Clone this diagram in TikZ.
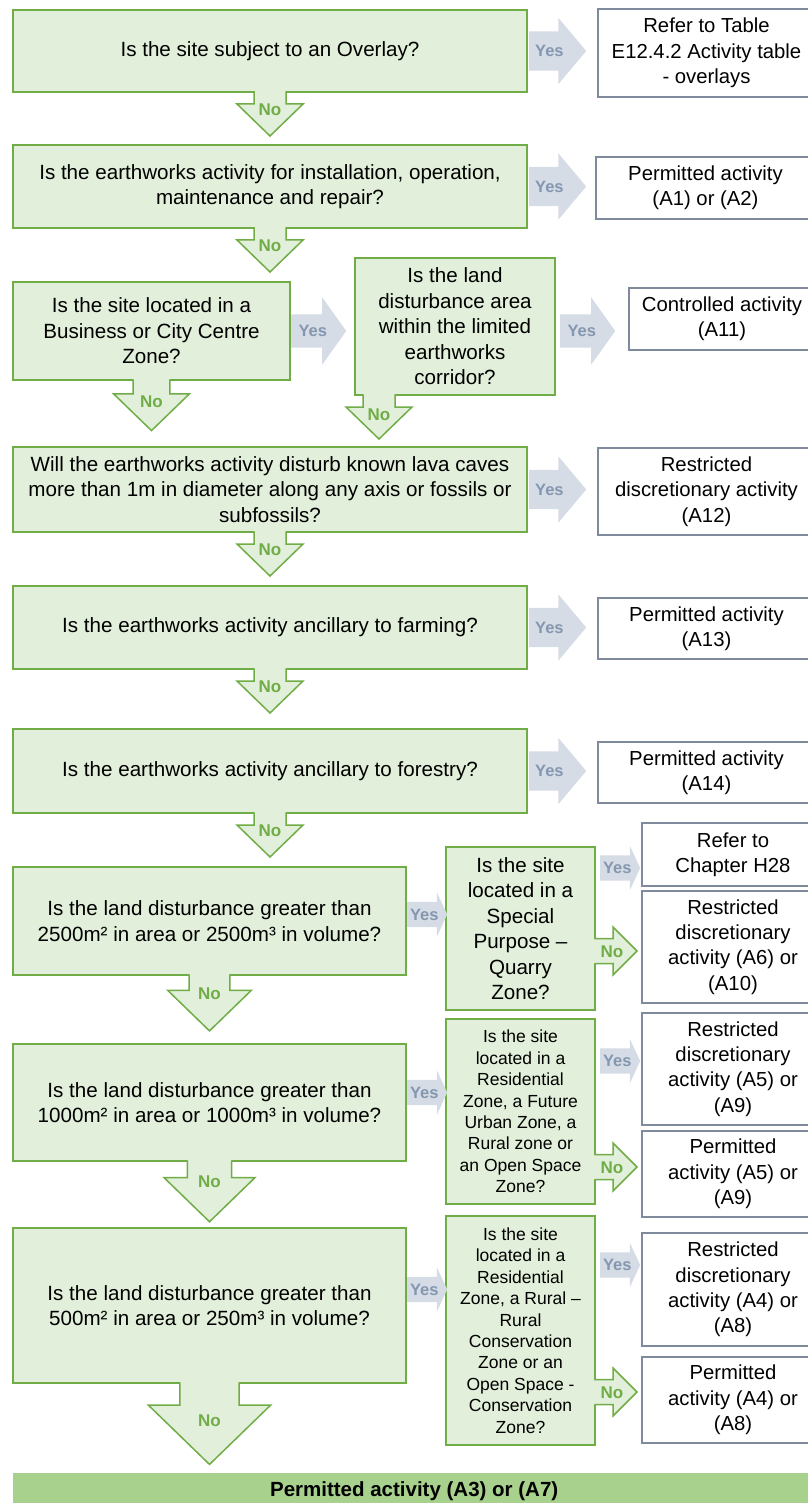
\documentclass[tikz,border=0pt]{standalone}
\usepackage{fontspec}
\setmainfont{Liberation Sans}
\usetikzlibrary{shapes.arrows,calc,positioning}
\definecolor{qfill}{HTML}{E2EFDA}
\definecolor{qline}{HTML}{70AD47}
\definecolor{rline}{HTML}{7F8A9C}
\definecolor{yesfill}{HTML}{D6DCE5}
\definecolor{yestext}{HTML}{8497B0}
\definecolor{barfill}{HTML}{A9D18E}
\tikzset{
	question/.style={draw=qline, fill=qfill, line width=1.5pt, outer sep=0pt, inner sep=2pt, align=center, anchor=north west, font=\fontsize{20.6}{25.5}\selectfont},
	smallq/.style={question, font=\fontsize{17.5}{21.4}\selectfont},
	result/.style={draw=rline, fill=white, line width=1.1pt, outer sep=0pt, inner sep=2pt, align=center, anchor=north west, font=\fontsize{20.3}{25.3}\selectfont},
	yes/.style={single arrow, fill=yesfill, text=yestext, font=\bfseries\fontsize{16.5}{16}\selectfont, text height=11.5pt, text depth=0pt, inner xsep=0pt, anchor=tail},
	yesbig/.style={yes, inner ysep=13.75pt, single arrow head extend=13.5pt, single arrow tip angle=100, minimum height=57pt},
	yesmid/.style={yes, inner ysep=10.75pt, single arrow head extend=17pt, single arrow tip angle=109, minimum height=55pt},
	yessmall/.style={yes, inner ysep=6.75pt, single arrow head extend=9.5pt, single arrow tip angle=130, minimum height=40pt},
	nolabel/.style={text=qline, font=\bfseries\fontsize{17}{17}\selectfont, inner sep=0pt},
	noline/.style={draw=qline, line width=1.5pt, line cap=rect},
	bar/.style={fill=barfill, inner sep=0pt, anchor=north west, font=\bfseries\fontsize{20.5}{21}\selectfont}
}
\newcommand{\noarrow}[4]{%
	\begin{scope}[shift={(#1.south)}, xshift=#2, scale=#3]
		\fill[qfill] (-16,-3) -- (-16,12) -- (-33,12) -- (0,44) -- (33,12) -- (16,12) -- (16,-3) -- cycle;
		\draw[noline] (-16,0) -- (-16,12) -- (-33,12) -- (0,44) -- (33,12) -- (16,12) -- (16,0);
	\end{scope}
	\node[nolabel] at ($(#1.south)+(#2,#4)$) {No};}
\newcommand{\sidenoarrow}[2]{%
	\begin{scope}[shift={(#1.east |- 0,#2)}]
		\fill[qfill] (-3,-12.5) -- (18,-12.5) -- (18,-24) -- (42,0) -- (18,24) -- (18,12.5) -- (-3,12.5) -- cycle;
		\draw[noline] (0,-12.5) -- (18,-12.5) -- (18,-24) -- (42,0) -- (18,24) -- (18,12.5) -- (0,12.5);
	\end{scope}
	\node[nolabel] at ($(#1.east |- 0,#2)+(17,1)$) {No};}

\begin{document}
\begin{tikzpicture}[x=1pt, y=-1pt]
	\useasboundingbox (0,0) rectangle (807,1503);
	\node[question, minimum width=514pt, minimum height=82pt] (q1) at (13,10) {Is the site subject to an Overlay?};
	\node[question, minimum width=514pt, minimum height=83pt] (q2) at (13,145) {Is the earthworks activity for installation, operation,\\maintenance and repair?};
	\node[question, minimum width=277pt, minimum height=98pt] (q3a) at (13,282) {Is the site located in a\\Business or City Centre\\Zone?};
	\node[question, minimum width=200pt, minimum height=137pt] (q3b) at (355,258) {Is the land\\disturbance area\\within the limited\\earthworks\\corridor?};
	\node[question, minimum width=514pt, minimum height=85pt] (q4) at (13,447) {Will the earthworks activity disturb known lava caves\\more than 1m in diameter along any axis or fossils or\\subfossils?};
	\node[question, minimum width=514pt, minimum height=83pt] (q5) at (13,586) {Is the earthworks activity ancillary to farming?};
	\node[question, minimum width=514pt, minimum height=84pt] (q6) at (13,729) {Is the earthworks activity ancillary to forestry?};
	\node[question, minimum width=393pt, minimum height=108pt] (q7) at (13,867) {Is the land disturbance greater than\\2500m² in area or 2500m³ in volume?};
	\node[question, minimum width=149pt, minimum height=163pt] (q7b) at (446,847) {Is the site\\located in a\\Special\\Purpose –\\Quarry\\Zone?};
	\node[question, minimum width=393pt, minimum height=117pt] (q8) at (13,1044) {Is the land disturbance greater than\\1000m² in area or 1000m³ in volume?};
	\node[smallq, minimum width=149pt, minimum height=185pt] (q8b) at (446,1019) {Is the site\\located in a\\Residential\\Zone, a Future\\Urban Zone, a\\Rural zone or\\an Open Space\\Zone?};
	\node[question, minimum width=393pt, minimum height=155pt] (q9) at (13,1228) {Is the land disturbance greater than\\500m² in area or 250m³ in volume?};
	\node[smallq, minimum width=149pt, minimum height=229pt] (q9b) at (446,1216) {Is the site\\located in a\\Residential\\Zone, a Rural –\\Rural\\Conservation\\Zone or an\\Open Space -\\Conservation\\Zone?};

	\node[result, minimum width=217pt, minimum height=88pt] (r1) at (598,9) {Refer to Table\\E12.4.2 Activity table\\- overlays};
	\node[result, minimum width=219pt, minimum height=62pt] (r2) at (596,157) {Permitted activity\\(A1) or (A2)};
	\node[result, minimum width=186pt, minimum height=62pt] (r3) at (629,288) {Controlled activity\\(A11)};
	\node[result, minimum width=217pt, minimum height=87pt] (r4) at (598,448) {Restricted\\discretionary activity\\(A12)};
	\node[result, minimum width=217pt, minimum height=61pt] (r5) at (598,598) {Permitted activity\\(A13)};
	\node[result, minimum width=217pt, minimum height=61pt] (r6) at (598,742) {Permitted activity\\(A14)};
	\node[result, minimum width=182pt, minimum height=63pt] (r7a) at (642,823) {Refer to\\Chapter H28};
	\node[result, minimum width=182pt, minimum height=112pt] (r7b) at (642,891) {Restricted\\discretionary\\activity (A6) or\\(A10)};
	\node[result, minimum width=182pt, minimum height=112pt] (r8a) at (642,1013) {Restricted\\discretionary\\activity (A5) or\\(A9)};
	\node[result, minimum width=182pt, minimum height=86pt] (r8b) at (642,1131) {Permitted\\activity (A5) or\\(A9)};
	\node[result, minimum width=182pt, minimum height=113pt] (r9a) at (642,1233) {Restricted\\discretionary\\activity (A4) or\\(A8)};
	\node[result, minimum width=182pt, minimum height=86pt] (r9b) at (642,1357) {Permitted\\activity (A4) or\\(A8)};
	\node[bar, minimum width=802pt, minimum height=36pt] (end) at (13,1473) {Permitted activity (A3) or (A7)};

	\node[yesbig] (y1) at ([xshift=2pt]q1.east) {Yes};
	\node[yesbig] (y2) at ([xshift=2pt]q2.east) {Yes};
	\node[yesmid] (y3a) at ([xshift=1pt]q3a.east) {Yes};
	\node[yesmid] (y3b) at ($(q3b.east |- q3a.east)+(5,0)$) {Yes};
	\node[yesbig] (y4) at ([xshift=2pt]q4.east) {Yes};
	\node[yesbig] (y5) at ([xshift=2pt]q5.east) {Yes};
	\node[yesbig] (y6) at ([xshift=2pt]q6.east) {Yes};
	\node[yessmall] (y7) at ($(q7.east)+(1,-6.5)$) {Yes};
	\node[yessmall] (y7b) at (600,868) {Yes};
	\node[yessmall] (y8) at ($(q8.east)+(1,-10)$) {Yes};
	\node[yessmall] (y8b) at (600,1061) {Yes};
	\node[yessmall] (y9) at ($(q9.east)+(1,-16)$) {Yes};
	\node[yessmall] (y9b) at (600,1265) {Yes};

	\noarrow{q1}{0}{1}{18}
	\noarrow{q2}{0}{1}{18}
	\noarrow{q3a}{0}{1.15}{22}
	\noarrow{q3b}{-76}{1}{20}
	\noarrow{q4}{0}{1}{18}
	\noarrow{q5}{0}{1}{18}
	\noarrow{q6}{0}{1}{18}
	\noarrow{q7}{0}{1.27}{19}
	\noarrow{q8}{0}{1.38}{21}
	\noarrow{q9}{0}{1.85}{38}
	\sidenoarrow{q7b}{951}
	\sidenoarrow{q8b}{1167}
	\sidenoarrow{q9b}{1392}
\end{tikzpicture}
\end{document}
